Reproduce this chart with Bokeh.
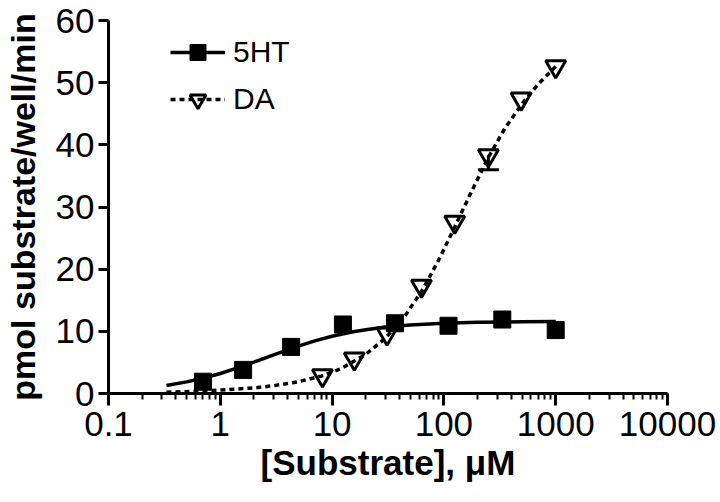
from bokeh.plotting import figure
from bokeh.models import (Range1d, LogTicker, SingleIntervalTicker, CustomJSTickFormatter,
                          Legend, LegendItem, Whisker, TeeHead, ColumnDataSource)
from bokeh.embed import file_html
from bokeh.resources import INLINE

# ---- data ----
ht_x = [0.7, 1.6, 4.3, 12.5, 36.5, 110, 333, 1000]
ht_y = [1.9, 3.8, 7.5, 11.1, 11.3, 10.9, 11.9, 10.2]

da_x = [8.2, 15.8, 31, 63, 125, 250, 490, 1000]
da_y = [2.9, 5.6, 9.6, 17.3, 27.6, 38.3, 47.4, 52.6]
da_err_low = [0, 0, 0, 0, 0, 2.3, 0, 0]

ht_fit_x = [0.33, 0.5, 0.7, 1, 1.5, 2, 3, 5, 7, 10, 15, 20, 30, 50, 100, 200, 500, 1000]
ht_fit_y = [1.3, 1.87, 2.46, 3.22, 4.24, 5.04, 6.21, 7.63, 8.46, 9.21, 9.89, 10.27,
            10.68, 11.03, 11.31, 11.45, 11.54, 11.57]

da_fit_x = [0.33, 0.5, 1, 2, 3, 5, 8, 12, 20, 30, 45, 65, 90, 125, 180, 250, 350, 500, 700, 1000]
da_fit_y = [0.2, 0.3, 0.55, 0.9, 1.25, 1.9, 2.8, 4.0, 6.3, 8.9, 12.5, 16.8, 21.5, 26.8,
            32.8, 38.0, 42.6, 46.6, 49.8, 52.6]

series_names = ["5HT", "DA"]
x_label = "[Substrate], \u03bcM"
y_label = "pmol substrate/well/min"

FONT = "Liberation Sans"

p = figure(width=720, height=502, x_axis_type="log",
           x_range=Range1d(0.1, 10000), y_range=Range1d(0, 60),
           output_backend="svg", toolbar_location=None,
           min_border_left=105, min_border_right=53, min_border_top=20, min_border_bottom=109)
p.outline_line_color = None
p.xgrid.grid_line_color = None
p.ygrid.grid_line_color = None
p.background_fill_color = "white"
p.border_fill_color = "white"

# fitted curves
ht_line = p.line(ht_fit_x, ht_fit_y, line_color="black", line_width=3.5)
da_line = p.line(da_fit_x, da_fit_y, line_color="black", line_width=3.5, line_dash="5 4")

# data points
ht_sq = p.scatter(ht_x, ht_y, marker="square", size=17, fill_color="black", line_color="black")
da_tri = p.scatter(da_x, da_y, marker="inverted_triangle", size=20, fill_alpha=0,
                   line_color="black", line_width=3)

# error bars (only the lower half shows in the reference)
ex = [x for x, e in zip(da_x, da_err_low) if e > 0]
ey = [y for y, e in zip(da_y, da_err_low) if e > 0]
ee = [e for e in da_err_low if e > 0]
err_src = ColumnDataSource(dict(x=ex, lower=[y - e for y, e in zip(ey, ee)], upper=ey))
wh = Whisker(base="x", lower="lower", upper="upper", source=err_src, line_width=3,
             line_color="black", upper_head=None,
             lower_head=TeeHead(size=21, line_width=3, line_color="black"))
p.add_layout(wh)

# axes
p.xaxis.ticker = LogTicker(mantissas=[1], desired_num_ticks=6, num_minor_ticks=10)
p.xaxis.formatter = CustomJSTickFormatter(code="return String(Number(tick.toPrecision(6)));")
p.yaxis.ticker = SingleIntervalTicker(interval=10, num_minor_ticks=0)

for ax in (p.xaxis[0], p.yaxis[0]):
    ax.axis_line_width = 3
    ax.axis_line_color = "black"
    ax.major_tick_line_width = 3
    ax.major_tick_line_color = "black"
    ax.major_tick_in = 0
    ax.major_label_text_font = FONT
    ax.major_label_text_font_size = "35px"
    ax.major_label_text_color = "black"
    ax.axis_label_text_font = FONT
    ax.axis_label_text_font_style = "bold"
    ax.axis_label_text_color = "black"

p.xaxis.major_tick_out = 12
p.xaxis.minor_tick_out = 6
p.xaxis.minor_tick_in = 0
p.xaxis.minor_tick_line_width = 2
p.xaxis.minor_tick_line_color = "black"
p.xaxis.major_label_standoff = 6
p.xaxis.axis_label = x_label
p.xaxis.axis_label_text_font_size = "35px"
p.xaxis.axis_label_standoff = 4

p.yaxis.major_tick_out = 10
p.yaxis.minor_tick_line_color = None
p.yaxis.major_label_standoff = 4
p.yaxis.axis_label = y_label
p.yaxis.axis_label_text_font_size = "34px"
p.yaxis.axis_label_standoff = 11

legend = Legend(items=[LegendItem(label=series_names[0], renderers=[ht_line, ht_sq]),
                       LegendItem(label=series_names[1], renderers=[da_line, da_tri])],
                location=(62, 274), glyph_width=55, glyph_height=40, spacing=7,
                padding=0, margin=0, border_line_alpha=0, background_fill_alpha=0,
                label_text_font=FONT, label_text_font_size="30px", label_standoff=8,
                label_text_color="black")
p.add_layout(legend)

open("out.html", "w").write(file_html(p, INLINE))
